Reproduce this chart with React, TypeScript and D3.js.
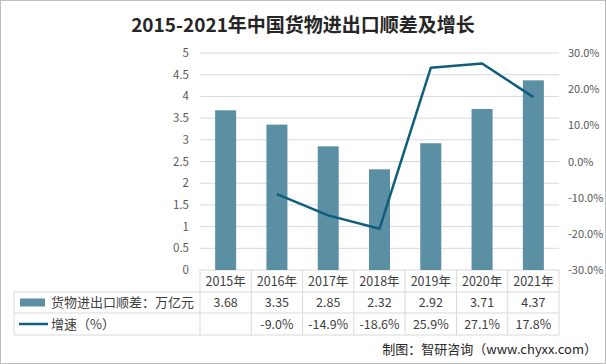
import React, { useEffect, useRef } from "react";
import * as d3 from "d3";

const years = ["2015年", "2016年", "2017年", "2018年", "2019年", "2020年", "2021年"];
const surplus = [3.68, 3.35, 2.85, 2.32, 2.92, 3.71, 4.37];
const growth: (number | null)[] = [null, -9.0, -14.9, -18.6, 25.9, 27.1, 17.8];
const leftTicks = [0, 0.5, 1, 1.5, 2, 2.5, 3, 3.5, 4, 4.5, 5];
const rightTicks = [-30, -20, -10, 0, 10, 20, 30];

const FONT = "'Noto Sans CJK SC', 'Noto Sans', sans-serif";

export default function App() {
  const ref = useRef<SVGSVGElement>(null);

  useEffect(() => {
    const width = 606;
    const height = 364;
    const plot = { left: 200, right: 559, top: 53, bottom: 270 };
    const rowH = [270, 292, 313, 335];

    const svg = d3.select(ref.current);
    svg.selectAll("*").remove();

    svg.append("rect").attr("x", 0.5).attr("y", 0.5).attr("width", width - 1).attr("height", height - 1)
      .attr("fill", "#fff").attr("stroke", "#bfbfbf");

    svg.append("text").attr("x", 303).attr("y", 32).attr("text-anchor", "middle")
      .attr("font-size", 19).attr("font-weight", "bold").attr("fill", "#262626")
      .attr("font-family", FONT).text("2015-2021年中国货物进出口顺差及增长");

    const x = d3.scaleBand().domain(years).range([plot.left, plot.right]).paddingInner(0).paddingOuter(0);
    const y = d3.scaleLinear().domain([0, 5]).range([plot.bottom, plot.top]);
    const y2 = d3.scaleLinear().domain([-30, 30]).range([plot.bottom, plot.top]);

    // grid
    svg.append("g").selectAll("line").data(leftTicks).enter().append("line")
      .attr("x1", plot.left).attr("x2", plot.right)
      .attr("y1", (d) => y(d)).attr("y2", (d) => y(d))
      .attr("stroke", "#d9d9d9").attr("stroke-width", 1);

    // left axis labels
    svg.append("g").selectAll("text").data(leftTicks).enter().append("text")
      .attr("x", 189).attr("y", (d) => y(d) + 4).attr("text-anchor", "end")
      .attr("font-size", 11.5).attr("fill", "#595959").attr("font-family", FONT)
      .text((d) => String(d));

    // right axis labels
    svg.append("g").selectAll("text").data(rightTicks).enter().append("text")
      .attr("x", 568).attr("y", (d) => y2(d) + 4).attr("text-anchor", "start")
      .attr("font-size", 11).attr("fill", "#595959").attr("font-family", FONT)
      .text((d) => d.toFixed(1) + "%");

    // bars
    const bw = 21;
    svg.append("g").selectAll("rect").data(surplus).enter().append("rect")
      .attr("x", (_, i) => x(years[i])! + x.bandwidth() / 2 - bw / 2)
      .attr("y", (d) => y(d)).attr("width", bw).attr("height", (d) => y(0) - y(d))
      .attr("fill", "#5b8fa3");

    // line
    const pts = growth.map((g, i) => ({ g, i })).filter((p) => p.g !== null) as { g: number; i: number }[];
    const line = d3.line<{ g: number; i: number }>()
      .x((p) => x(years[p.i])! + x.bandwidth() / 2)
      .y((p) => y2(p.g));
    svg.append("path").attr("d", line(pts)).attr("fill", "none")
      .attr("stroke", "#0f5e7c").attr("stroke-width", 2.5).attr("stroke-linejoin", "round");

    // table
    const tg = svg.append("g").attr("stroke", "#d9d9d9").attr("stroke-width", 1);
    [rowH[1], rowH[2], rowH[3]].forEach((ry) => {
      tg.append("line").attr("x1", 14).attr("x2", plot.right).attr("y1", ry).attr("y2", ry);
    });
    const cols = years.map((yr) => x(yr)!).concat([plot.right]);
    cols.forEach((cx) => {
      tg.append("line").attr("x1", cx).attr("x2", cx).attr("y1", rowH[0]).attr("y2", rowH[3]);
    });
    tg.append("line").attr("x1", 14).attr("x2", 14).attr("y1", rowH[1]).attr("y2", rowH[3]);

    const txt = svg.append("g").attr("font-family", FONT).attr("font-size", 12.5).attr("fill", "#404040");
    years.forEach((yr, i) => {
      const cx = x(yr)! + x.bandwidth() / 2;
      txt.append("text").attr("x", cx).attr("y", (rowH[0] + rowH[1]) / 2 + 4.5).attr("text-anchor", "middle").text(yr);
      txt.append("text").attr("x", cx).attr("y", (rowH[1] + rowH[2]) / 2 + 4.5).attr("text-anchor", "middle").text(surplus[i].toFixed(2));
      const g = growth[i];
      if (g !== null) {
        txt.append("text").attr("x", cx).attr("y", (rowH[2] + rowH[3]) / 2 + 4.5).attr("text-anchor", "middle").text(g.toFixed(1) + "%");
      }
    });

    // legend keys
    svg.append("rect").attr("x", 20).attr("y", (rowH[1] + rowH[2]) / 2 - 4).attr("width", 25).attr("height", 8).attr("fill", "#5b8fa3");
    txt.append("text").attr("x", 51).attr("y", (rowH[1] + rowH[2]) / 2 + 4.5).attr("font-size", 13).text("货物进出口顺差：万亿元");
    svg.append("line").attr("x1", 19).attr("x2", 48).attr("y1", (rowH[2] + rowH[3]) / 2).attr("y2", (rowH[2] + rowH[3]) / 2)
      .attr("stroke", "#0f5e7c").attr("stroke-width", 2.5);
    txt.append("text").attr("x", 51).attr("y", (rowH[2] + rowH[3]) / 2 + 4.5).attr("font-size", 13).text("增速（%）");

    // source
    svg.append("text").attr("x", 597).attr("y", 354).attr("text-anchor", "end")
      .attr("font-family", FONT).attr("font-size", 13).attr("fill", "#262626")
      .text("制图：智研咨询（www.chyxx.com）");
  }, []);

  return (
    <svg ref={ref} width={606} height={364} style={{ display: "block", position: "absolute", left: 0, top: 0 }}></svg>
  );
}
